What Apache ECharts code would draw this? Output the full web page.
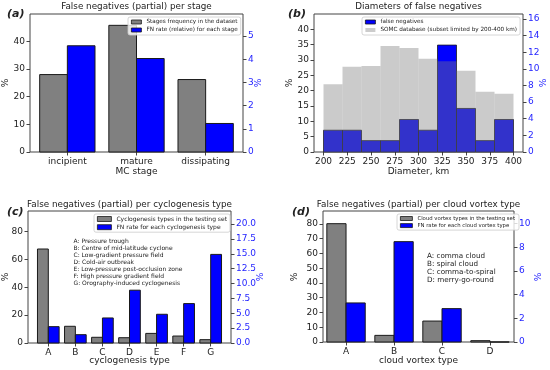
<!DOCTYPE html>
<html>
<head>
<meta charset="utf-8">
<script src="https://cdn.jsdelivr.net/npm/echarts@6/dist/echarts.min.js"></script>
<style>html,body{margin:0;padding:0;background:#fff}#c{width:550px;height:370px}</style>
</head>
<body>
<div id="c"></div>
<script>
// ---- data ----
const stageCats = ['incipient', 'mature', 'dissipating'];
const stageFreq = [28.0, 45.8, 26.2];
const stageFN = [4.58, 4.03, 1.23];

const diamEdges = [200, 220, 240, 260, 280, 300, 320, 340, 360, 380, 400];
const diamFN = [2.62, 2.62, 1.37, 1.37, 3.91, 2.62, 12.86, 5.24, 1.37, 3.91];
const diamSOMC = [22.1, 27.8, 28.0, 34.5, 33.9, 30.4, 29.6, 26.5, 19.6, 19.0];
const diamTicks = [200, 225, 250, 275, 300, 325, 350, 375, 400];

const cycloCats = ['A', 'B', 'C', 'D', 'E', 'F', 'G'];
const cycloFreq = [67.5, 12.0, 4.1, 3.8, 6.9, 5.0, 2.4];
const cycloFN = [2.75, 1.40, 4.21, 8.88, 4.83, 6.63, 14.9];
const cycloNotes = ['A: Pressure trough', 'B: Centre of mid-latitude cyclone', 'C: Low-gradient pressure field',
  'D: Cold-air outbreak', 'E: Low-pressure post-occlusion zone', 'F: High pressure gradient field',
  'G: Orography-induced cyclogenesis'];

const vortexCats = ['A', 'B', 'C', 'D'];
const vortexFreq = [80.2, 4.5, 14.2, 0.9];
const vortexFN = [3.30, 8.48, 2.82, 0];
const vortexNotes = ['A: comma cloud', 'B: spiral cloud', 'C: comma-to-spiral', 'D: merry-go-round'];

// ---- styles ----
const FONT = 'DejaVu Sans';
const GRAY = '#808080', BLUE = '#0000ff', EDGE = '#1a1a1a', RBLUE = '#1f1fff';
const AX = '#444';

function groupRender(offset, fill) {
  return function (params, api) {
    const x = api.value(0) + offset;
    const v = api.value(1);
    const p0 = api.coord([x, v]);
    const p1 = api.coord([x + 0.4, 0]);
    return { type: 'rect', shape: { x: p0[0], y: p0[1], width: p1[0] - p0[0], height: p1[1] - p0[1] },
      style: { fill: fill, stroke: EDGE, lineWidth: 1 } };
  };
}
function histRender(fill, stroke) {
  return function (params, api) {
    const p0 = api.coord([api.value(0), api.value(2)]);
    const p1 = api.coord([api.value(1), 0]);
    return { type: 'rect', shape: { x: p0[0], y: p0[1], width: p1[0] - p0[0], height: p1[1] - p0[1] },
      style: stroke ? { fill: fill, stroke: stroke, lineWidth: 0.8 } : { fill: fill } };
  };
}

const grids = [
  { left: 30, top: 14, width: 213, height: 138 },
  { left: 314, top: 14, width: 209, height: 138 },
  { left: 28, top: 211, width: 203, height: 132 },
  { left: 323, top: 211, width: 191, height: 131 }
].map(g => Object.assign({ show: true, borderColor: AX, borderWidth: 1, containLabel: false }, g));

function xCat(gi, cats, min, max) {
  const vals = cats.map((c, i) => i);
  return { gridIndex: gi, type: 'value', min: min, max: max, splitLine: { show: false },
    axisLine: { show: false, onZero: false },
    axisTick: { customValues: vals, length: 3.5, lineStyle: { color: AX } },
    axisLabel: { customValues: vals, formatter: v => cats[Math.round(v)], fontSize: 9, color: '#222', margin: 5, fontFamily: FONT } };
}
function yAx(gi, pos, max, step, color, fmt) {
  return { gridIndex: gi, type: 'value', position: pos, min: 0, max: max, interval: step,
    splitLine: { show: false }, axisLine: { show: false, onZero: false },
    axisTick: { length: 3.5, lineStyle: { color: AX } },
    axisLabel: { showMaxLabel: false, fontSize: 9, color: color, margin: 5, fontFamily: FONT, formatter: fmt || (v => String(v)) } };
}

function legend(left, top, fs, iw, ih, pad, gap, items) {
  return { orient: 'vertical', left: left, top: top, itemWidth: iw, itemHeight: ih, itemGap: gap,
    padding: pad, borderColor: '#cccccc', borderWidth: 0.8, borderRadius: 2,
    backgroundColor: 'rgba(255,255,255,0.8)', selectedMode: false,
    textStyle: { fontSize: fs, fontFamily: FONT, color: '#222' },
    data: items.map(it => ({ name: it[0], icon: 'rect', itemStyle: { color: it[1], borderColor: it[2], borderWidth: it[2] ? 0.8 : 0 } })) };
}

function txt(x, y, text, opts) {
  opts = opts || {};
  return { type: 'text', x: x, y: y, rotation: opts.rot || 0, z: 100,
    style: { text: text, fill: opts.color || '#222', font: (opts.font || '8.8px') + ' "' + FONT + '"',
      textAlign: opts.align || 'center', textVerticalAlign: opts.valign || 'middle', lineHeight: opts.lh } };
}

const nameA1 = 'Stages frequency in the dataset', nameA2 = 'FN rate (relative) for each stage';
const nameB1 = 'false negatives', nameB2 = 'SOMC database (subset limited by 200-400 km)';
const nameC1 = 'Cyclogenesis types in the testing set', nameC2 = 'FN rate for each cyclogenesis type';
const nameD1 = 'Cloud vortex types in the testing set', nameD2 = 'FN rate for each cloud vortex type';

const option = {
  animation: false,
  textStyle: { fontFamily: FONT },
  grid: grids,
  xAxis: [
    xCat(0, stageCats, -0.54, 2.54),
    { gridIndex: 1, type: 'value', min: 190, max: 410, splitLine: { show: false },
      axisLine: { show: false, onZero: false },
      axisTick: { customValues: diamTicks, length: 3.5, lineStyle: { color: AX } },
      axisLabel: { customValues: diamTicks, fontSize: 9, color: '#222', margin: 5, fontFamily: FONT } },
    xCat(2, cycloCats, -0.75, 6.75),
    xCat(3, vortexCats, -0.48, 3.5)
  ],
  yAxis: [
    yAx(0, 'left', 49.9, 10, '#222'),
    yAx(0, 'right', 5.95, 1, RBLUE),
    yAx(1, 'left', 44.95, 5, '#222'),
    yAx(1, 'right', 16.6, 2, RBLUE),
    yAx(2, 'left', 94.8, 20, '#222'),
    yAx(2, 'right', 22.2, 2.5, RBLUE, v => v.toFixed(1)),
    yAx(3, 'left', 88.8, 10, '#222'),
    yAx(3, 'right', 11.07, 2, RBLUE)
  ],
  legend: [
    legend(128, 17, 5.7, 10, 4, [2, 3, 2, 3], 2, [[nameA1, GRAY, EDGE], [nameA2, BLUE, EDGE]]),
    legend(362, 17, 5.7, 10, 4, [2, 3, 2, 3], 2, [[nameB1, BLUE, EDGE], [nameB2, '#cccccc', null]]),
    legend(94, 214, 6.0, 14, 5, [2, 3, 2, 3], 2.2, [[nameC1, GRAY, EDGE], [nameC2, BLUE, EDGE]]),
    legend(397, 214, 5.35, 12, 4, [2, 4, 2, 3], 2.1, [[nameD1, GRAY, EDGE], [nameD2, BLUE, EDGE]])
  ],
  series: [
    { type: 'custom', name: nameA1, xAxisIndex: 0, yAxisIndex: 0, encode: { x: 0, y: 1 },
      itemStyle: { color: GRAY }, renderItem: groupRender(-0.4, GRAY), data: stageFreq.map((v, i) => [i, v]) },
    { type: 'custom', name: nameA2, xAxisIndex: 0, yAxisIndex: 1, encode: { x: 0, y: 1 },
      itemStyle: { color: BLUE }, renderItem: groupRender(0, BLUE), data: stageFN.map((v, i) => [i, v]) },

    { type: 'custom', name: nameB1, xAxisIndex: 1, yAxisIndex: 3, encode: { x: [0, 1], y: 2 },
      itemStyle: { color: BLUE }, renderItem: histRender(BLUE, EDGE),
      data: diamFN.map((v, i) => [diamEdges[i], diamEdges[i + 1], v]) },
    { type: 'custom', name: nameB2, xAxisIndex: 1, yAxisIndex: 2, encode: { x: [0, 1], y: 2 },
      itemStyle: { color: '#cccccc' }, renderItem: histRender('rgba(126,126,126,0.4)', null),
      data: diamSOMC.map((v, i) => [diamEdges[i], diamEdges[i + 1], v]) },

    { type: 'custom', name: nameC1, xAxisIndex: 2, yAxisIndex: 4, encode: { x: 0, y: 1 },
      itemStyle: { color: GRAY }, renderItem: groupRender(-0.4, GRAY), data: cycloFreq.map((v, i) => [i, v]) },
    { type: 'custom', name: nameC2, xAxisIndex: 2, yAxisIndex: 5, encode: { x: 0, y: 1 },
      itemStyle: { color: BLUE }, renderItem: groupRender(0, BLUE), data: cycloFN.map((v, i) => [i, v]) },

    { type: 'custom', name: nameD1, xAxisIndex: 3, yAxisIndex: 6, encode: { x: 0, y: 1 },
      itemStyle: { color: GRAY }, renderItem: groupRender(-0.4, GRAY), data: vortexFreq.map((v, i) => [i, v]) },
    { type: 'custom', name: nameD2, xAxisIndex: 3, yAxisIndex: 7, encode: { x: 0, y: 1 },
      itemStyle: { color: BLUE }, renderItem: groupRender(0, BLUE), data: vortexFN.map((v, i) => [i, v]) }
  ],
  graphic: [
    txt(136.5, 7, 'False negatives (partial) per stage'),
    txt(7, 14.5, '(a)', { align: 'left', font: 'italic bold 11px' }),
    txt(136.5, 172, 'MC stage', { font: '9px' }),
    txt(6, 83, '%', { rot: Math.PI / 2, font: '9px' }),
    txt(259, 83, '%', { rot: Math.PI / 2, font: '9px', color: RBLUE }),

    txt(418.5, 7, 'Diameters of false negatives'),
    txt(288, 14.5, '(b)', { align: 'left', font: 'italic bold 11px' }),
    txt(418.5, 172, 'Diameter, km', { font: '9px' }),
    txt(290, 83, '%', { rot: Math.PI / 2, font: '9px' }),
    txt(544, 83, '%', { rot: Math.PI / 2, font: '9px', color: RBLUE }),

    txt(129.5, 205, 'False negatives (partial) per cyclogenesis type'),
    txt(7, 212.5, '(c)', { align: 'left', font: 'italic bold 11px' }),
    txt(129.5, 361, 'cyclogenesis type', { font: '9px' }),
    txt(6, 277, '%', { rot: Math.PI / 2, font: '9px' }),
    txt(261, 277, '%', { rot: Math.PI / 2, font: '9px', color: RBLUE }),
    txt(73.5, 237.5, cycloNotes.join('\n'), { align: 'left', valign: 'top', font: '6px', lh: 7.1 }),

    txt(418.5, 205, 'False negatives (partial) per cloud vortex type'),
    txt(292, 212.5, '(d)', { align: 'left', font: 'italic bold 11px' }),
    txt(418.5, 361, 'cloud vortex type', { font: '9px' }),
    txt(295, 277, '%', { rot: Math.PI / 2, font: '9px' }),
    txt(539, 277, '%', { rot: Math.PI / 2, font: '9px', color: RBLUE }),
    txt(427, 251.7, vortexNotes.join('\n'), { align: 'left', valign: 'top', font: '7.2px', lh: 8 })
  ]
};

const chart = echarts.init(document.getElementById('c'), null, { renderer: 'canvas' });
chart.setOption(option);
</script>
</body>
</html>
